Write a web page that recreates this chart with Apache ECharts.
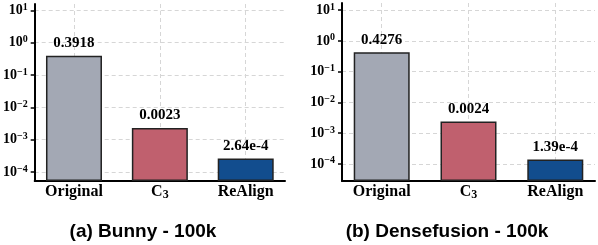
<!DOCTYPE html>
<html><head><meta charset="utf-8">
<script src="https://cdn.jsdelivr.net/npm/echarts@6/dist/echarts.min.js"></script>
<style>html,body{margin:0;padding:0;background:#fff}#c{width:598px;height:245px}</style>
</head><body><div id="c"></div>
<script>
const categories = ['Original', 'C3', 'ReAlign'];
const bunnyValues = [0.3918, 0.0023, 2.64e-4];
const bunnyLabels = ['0.3918', '0.0023', '2.64e-4'];
const densefusionValues = [0.4276, 0.0024, 1.39e-4];
const densefusionLabels = ['0.4276', '0.0024', '1.39e-4'];
const tickExponents = [-4, -3, -2, -1, 0, 1];
const subtitles = ['(a) Bunny - 100k', '(b) Densefusion - 100k'];
const barColors = ['#a3a8b4', '#c0606e', '#124d8e'];

const chart = echarts.init(document.getElementById('c'), null, {renderer: 'canvas'});
const panels = [
  {values: bunnyValues, labels: bunnyLabels, left: 33, width: 252, top: 4, height: 177, titleX: 143},
  {values: densefusionValues, labels: densefusionLabels, left: 342, width: 253, top: 3, height: 178, titleX: 447}
];
panels.forEach(p => {
  p.logMin = Math.log10(Math.min(...p.values) * 0.2);
  p.logMax = Math.log10(Math.max(...p.values) * 40);
});
const barW = 0.65;
const xMargin = 0.05 * (categories.length - 1 + barW);
const xMin = -barW / 2 - xMargin, xMax = categories.length - 1 + barW / 2 + xMargin;
const catIdx = categories.map((c, i) => i);
const grid = '#d6d6d6';
const serif = 'Liberation Serif';

const option = {
  animation: false,
  backgroundColor: '#fff',
  grid: panels.map(p => ({left: p.left, width: p.width, top: p.top, height: p.height, containLabel: false})),
  xAxis: panels.map((p, gi) => ({
    type: 'value', gridIndex: gi, min: xMin, max: xMax,
    axisLine: {show: true, onZero: false, lineStyle: {color: '#000', width: 2}},
    axisTick: {show: false, customValues: catIdx},
    splitLine: {show: true, lineStyle: {color: grid, width: 1, type: [4, 3]}},
    axisLabel: {
      customValues: catIdx, margin: 2, color: '#000',
      formatter: v => {
        const n = categories[Math.round(v)];
        if (n === 'C3') return '{n|C}{sub|3}';
        return '{n|' + n + '}';
      },
      rich: {
        n: {fontFamily: serif, fontWeight: 'bold', fontSize: 16, lineHeight: 18, color: '#000'},
        sub: {fontFamily: serif, fontWeight: 'bold', fontSize: 12, lineHeight: 12, padding: [6, 0, 0, 0], color: '#000'}
      }
    }
  })),
  yAxis: panels.map((p, gi) => {
    const tv = tickExponents.map(e => e - p.logMin);
    return {
      type: 'value', gridIndex: gi, min: 0, max: p.logMax - p.logMin,
      axisLine: {show: true, onZero: false, lineStyle: {color: '#000', width: 2}},
      axisTick: {show: true, inside: false, length: 4, customValues: tv, lineStyle: {color: '#000', width: 1.5}},
      splitLine: {show: true, lineStyle: {color: grid, width: 1, type: [4, 3]}},
      axisLabel: {
        customValues: tv, margin: 7, color: '#000',
        formatter: v => {
          const e = Math.round(v + p.logMin);
          return '{b|10}{s|' + (e < 0 ? '\u2212' + (-e) : e) + '}';
        },
        rich: {
          b: {fontFamily: serif, fontWeight: 'bold', fontSize: 14, lineHeight: 15, color: '#000'},
          s: {fontFamily: serif, fontWeight: 'bold', fontSize: 10, lineHeight: 10, padding: [0, 0, 6, 0], color: '#000'}
        }
      }
    };
  }),
  series: panels.map((p, gi) => ({
    type: 'bar', xAxisIndex: gi, yAxisIndex: gi, barWidth: 56,
    data: p.values.map((v, i) => ({
      value: [i, Math.log10(v) - p.logMin],
      itemStyle: {color: barColors[i], borderColor: '#222', borderWidth: 1.5}
    })),
    label: {
      show: true, position: 'top', distance: 5,
      fontFamily: serif, fontWeight: 'bold', fontSize: 15, color: '#000',
      formatter: prm => p.labels[prm.dataIndex]
    }
  })),
  graphic: panels.map((p, gi) => ({
    type: 'text', x: p.titleX, y: 232,
    style: {text: subtitles[gi], fontFamily: 'Liberation Sans', fontWeight: 'bold', fontSize: 19, fill: '#000', textAlign: 'center', textVerticalAlign: 'middle'}
  }))
};
chart.setOption(option);
</script></body></html>
